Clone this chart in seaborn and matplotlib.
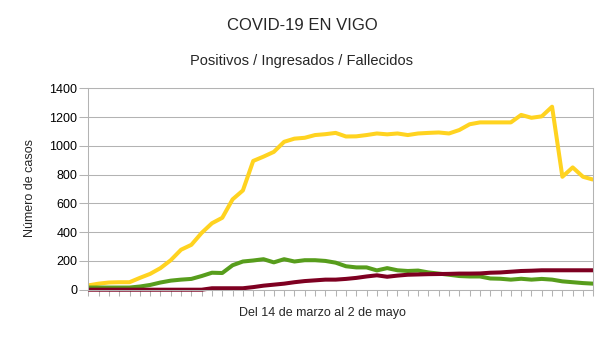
import numpy as np
import pandas as pd
import matplotlib
matplotlib.use("Agg")
import matplotlib.pyplot as plt
import seaborn as sns

# Daily values, 14 March -> 2 May (50 days)
positivos = [30, 42, 50, 52, 52, 82, 110, 150, 205, 278,
             312, 395, 462, 500, 628, 690, 895, 925, 958, 1028,
             1050, 1056, 1075, 1081, 1090, 1065, 1066, 1075, 1086, 1080,
             1086, 1075, 1086, 1090, 1093, 1086, 1110, 1150, 1163, 1163,
             1163, 1163, 1215, 1195, 1205, 1272, 785, 850, 785, 765]
ingresados = [15, 15, 15, 15, 15, 22, 33, 50, 63, 70,
              75, 95, 118, 116, 170, 196, 203, 212, 190, 212,
              196, 205, 205, 200, 188, 163, 155, 155, 134, 150,
              135, 130, 133, 120, 112, 104, 95, 92, 92, 78,
              76, 70, 76, 70, 75, 70, 58, 52, 46, 42]
fallecidos = [0, 0, 0, 0, 0, 0, 0, 0, 0, 0,
              0, 0, 10, 10, 10, 10, 18, 28, 35, 42,
              52, 60, 65, 70, 70, 75, 82, 92, 100, 90,
              98, 104, 106, 108, 109, 110, 112, 112, 113, 118,
              120, 125, 130, 132, 135, 135, 135, 135, 135, 135]

series = ["Positivos", "Ingresados", "Fallecidos"]
colores = ["#ffd320", "#579d1c", "#7e0021"]
yticks = [0, 200, 400, 600, 800, 1000, 1200, 1400]

titulo = "COVID-19 EN VIGO"
subtitulo = "Positivos / Ingresados / Fallecidos"
etiqueta_y = "Número de casos"
etiqueta_x = "Del 14 de marzo al 2 de mayo"

n = len(positivos)
df = pd.DataFrame({
    "dia": np.tile(np.arange(n), 3),
    "casos": positivos + ingresados + fallecidos,
    "serie": np.repeat(series, n),
})

sns.set_theme(style="white")
plt.rcParams["font.family"] = ["Liberation Sans", "DejaVu Sans"]

W, H = 605, 340
fig = plt.figure(figsize=(W / 100, H / 100), dpi=100)
fig.patch.set_facecolor("white")
left, right, top, bottom = 88.3, 593.3, 88.3, 289.7
ax = fig.add_axes([left / W, 1 - bottom / H, (right - left) / W, (bottom - top) / H])

sns.lineplot(data=df, x="dia", y="casos", hue="serie",
             palette=dict(zip(series, colores)), hue_order=series,
             linewidth=2.9, legend=False, errorbar=None, ax=ax)
for ln in ax.lines:
    ln.set_clip_on(False)
    ln.set_solid_joinstyle("round")
    ln.set_solid_capstyle("butt")

grey = "#b3b3b3"
ax.set_xlim(0, n - 1)
ax.set_ylim(0, 1400)
ax.set_yticks(yticks)
ax.set_yticklabels([str(v) for v in yticks], fontsize=9, color="black")
ax.set_xticks(np.arange(n))
ax.set_xticklabels([])
ax.tick_params(axis="y", left=True, length=6.7, width=0.75, color=grey, pad=1.2)
ax.tick_params(axis="x", bottom=True, length=4.3, width=0.75, color=grey, pad=1)
ax.yaxis.grid(True, color=grey, linewidth=0.75)
ax.xaxis.grid(False)
ax.set_axisbelow(True)
for s in ax.spines.values():
    s.set_color(grey)
    s.set_linewidth(0.75)
ax.set_xlabel("")
ax.set_ylabel("")

fig.text(302 / W, 1 - 25 / H, titulo, ha="center", va="center", fontsize=12)
fig.text(302 / W, 1 - 61 / H, subtitulo, ha="center", va="center", fontsize=10.5)
fig.text(30 / W, 1 - 188 / H, etiqueta_y, ha="center", va="center", rotation=90, fontsize=9)
fig.text(322.5 / W, 1 - 313 / H, etiqueta_x, ha="center", va="center", fontsize=9)

fig.savefig("out.png", dpi=100, facecolor="white")
